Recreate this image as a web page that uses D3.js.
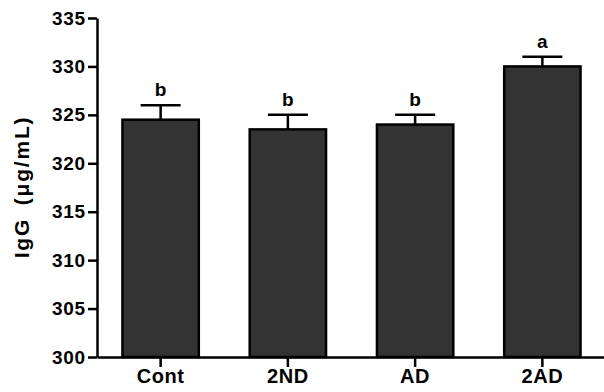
<!DOCTYPE html>
<html>
<head>
<meta charset="utf-8">
<script src="https://cdn.jsdelivr.net/npm/d3@7"></script>
<style>
  body { margin: 0; background: #fff; }
  text { font-family: "Liberation Sans", Arial, sans-serif; font-weight: bold; }
</style>
</head>
<body>
<div id="chart"></div>
<script>
// data
var groups = ["Cont", "2ND", "AD", "2AD"];
var means = [324.5, 323.5, 324, 330];
var errors = [1.5, 1.5, 1, 1];
var letters = ["b", "b", "b", "a"];
var yTicks = [300, 305, 310, 315, 320, 325, 330, 335];

var W = 604, H = 392;
var margin = {top: 18, right: 0, bottom: 35, left: 97};

var svg = d3.select("#chart")
  .append("svg")
    .attr("width", W)
    .attr("height", H);

var x = d3.scaleBand()
  .domain(groups)
  .range([margin.left, W + 2])
  .paddingInner(0.4)
  .paddingOuter(0.2);

var y = d3.scaleLinear()
  .domain([300, 335])
  .range([H - margin.bottom, margin.top]);

// bars
svg.selectAll(".bar")
  .data(groups)
  .enter().append("rect")
    .attr("class", "bar")
    .attr("x", function(d) { return x(d); })
    .attr("y", function(d, i) { return y(means[i]); })
    .attr("width", x.bandwidth())
    .attr("height", function(d, i) { return y(300) - y(means[i]); })
    .attr("fill", "#333333")
    .attr("stroke", "#000")
    .attr("stroke-width", 2.5);

// error bars (upper only)
var capW = 40;
svg.selectAll(".err")
  .data(groups)
  .enter().append("path")
    .attr("class", "err")
    .attr("fill", "none")
    .attr("stroke", "#000")
    .attr("stroke-width", 2.5)
    .attr("d", function(d, i) {
      var cx = x(d) + x.bandwidth() / 2;
      var top = y(means[i] + errors[i]);
      return "M" + cx + "," + y(means[i]) + "V" + top +
             "M" + (cx - capW / 2) + "," + top + "H" + (cx + capW / 2);
    });

// significance letters
svg.selectAll(".sig")
  .data(groups)
  .enter().append("text")
    .attr("class", "sig")
    .attr("x", function(d) { return x(d) + x.bandwidth() / 2; })
    .attr("y", function(d, i) { return y(means[i] + errors[i]) - 9; })
    .attr("text-anchor", "middle")
    .style("font-size", "19px")
    .text(function(d, i) { return letters[i]; });

// y axis
var yAxis = svg.append("g")
  .attr("transform", "translate(" + margin.left + ",0)")
  .call(d3.axisLeft(y).tickValues(yTicks).tickSize(9).tickSizeOuter(0).tickPadding(2));
yAxis.select(".domain").attr("stroke-width", 2.5);
yAxis.selectAll(".tick line").attr("stroke-width", 2.5);
yAxis.selectAll(".tick text")
  .style("font-size", "19px")
  .style("letter-spacing", "0.8px")
  .attr("fill", "#000");

// x axis
var xAxis = svg.append("g")
  .attr("transform", "translate(0," + y(300) + ")")
  .call(d3.axisBottom(x).tickSize(10).tickSizeOuter(0).tickPadding(2));
xAxis.select(".domain").attr("stroke-width", 2.5);
xAxis.selectAll(".tick line").attr("stroke-width", 2.5);
xAxis.selectAll(".tick text")
  .style("font-size", "20px")
  .style("letter-spacing", "0.6px")
  .attr("fill", "#000");

// y label
svg.append("text")
  .attr("transform", "translate(29,187) rotate(-90)")
  .attr("text-anchor", "middle")
  .style("font-size", "21px")
  .style("letter-spacing", "1.8px")
  .style("word-spacing", "5px")
  .text("IgG (\u03bcg/mL)");
</script>
</body>
</html>
